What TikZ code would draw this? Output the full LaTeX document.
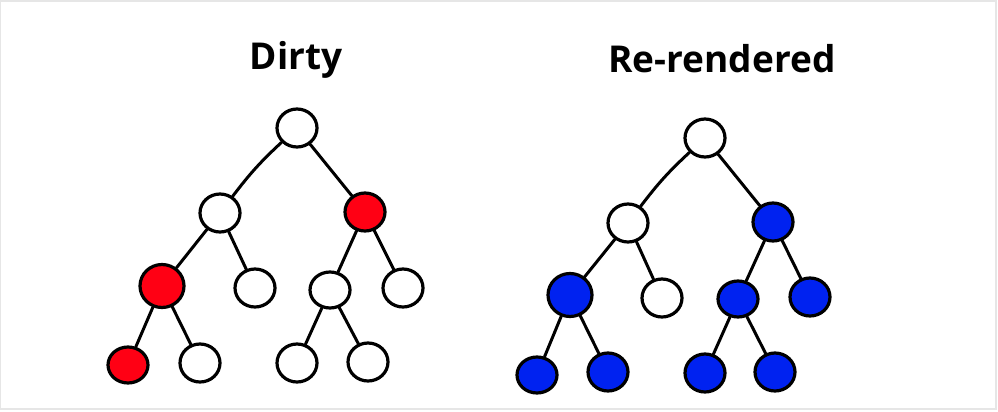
\documentclass[tikz,border=0pt]{standalone}
\usepackage{fontspec}
\setmainfont{Open Sans}
\usepackage{xcolor}
\definecolor{cDirty}{HTML}{FF0014}
\definecolor{cRedo}{HTML}{0022F0}
\definecolor{cFrame}{HTML}{E6E6E6}
\usepackage{tikz}
\usetikzlibrary{positioning,shapes.geometric}
\tikzset{
  node-clean/.style={draw=black,line width=3.2pt,ellipse,fill=white,
    minimum width=40pt,minimum height=38pt,inner sep=0pt},
  node-dirty/.style={node-clean,fill=cDirty},
  node-redo/.style={node-clean,fill=cRedo},
  edge-line/.style={line width=3pt,draw=black,line cap=round},
  title-text/.style={font=\fontsize{37}{40}\selectfont\bfseries,anchor=base},
}

\begin{document}
\begin{tikzpicture}[x=1pt,y=-1pt]
  \useasboundingbox (0,0) rectangle (998,412);
  \draw[cFrame,line width=1.5pt] (0,1) rectangle (996,409);
  % dirty tree
  \node[title-text] (t-dirty) at (296,70) {Dirty};
  \node[node-clean] (d-root) at (297,128) {};
  \node[node-clean] (d-l) at (220,213) {};
  \node[node-dirty] (d-r) at (365,212) {};
  \node[node-dirty,minimum width=44pt,minimum height=43pt] (d-ll) at (162,286) {};
  \node[node-clean] (d-lr) at (255,288) {};
  \node[node-clean,minimum height=36pt] (d-rl) at (330,290) {};
  \node[node-clean] (d-rr) at (403,288) {};
  \node[node-dirty,minimum height=36pt] (d-lll) at (128,365) {};
  \node[node-clean] (d-llr) at (200,363) {};
  \node[node-clean] (d-rll) at (297,363) {};
  \node[node-clean] (d-rlr) at (368,362) {};
  \draw[edge-line] (d-root) to[bend right=5] (d-l);
  \draw[edge-line] (d-root) -- (d-r);
  \draw[edge-line] (d-l) -- (d-ll);
  \draw[edge-line] (d-l) -- (d-lr);
  \draw[edge-line] (d-r) -- (d-rl);
  \draw[edge-line] (d-r) -- (d-rr);
  \draw[edge-line] (d-ll) -- (d-lll);
  \draw[edge-line] (d-ll) -- (d-llr);
  \draw[edge-line] (d-rl) -- (d-rll);
  \draw[edge-line] (d-rl) -- (d-rlr);
  % re-rendered tree
  \node[title-text] (t-redo) at (722,72) {Re-rendered};
  \node[node-clean] (r-root) at (705,138) {};
  \node[node-clean] (r-l) at (628,223) {};
  \node[node-redo] (r-r) at (773,222) {};
  \node[node-redo,minimum width=44pt,minimum height=43pt] (r-ll) at (570,295) {};
  \node[node-clean] (r-lr) at (662,298) {};
  \node[node-redo,minimum height=36pt] (r-rl) at (738,299) {};
  \node[node-redo] (r-rr) at (810,297) {};
  \node[node-redo,minimum height=36pt] (r-lll) at (537,375) {};
  \node[node-redo] (r-llr) at (608,372) {};
  \node[node-redo] (r-rll) at (705,373) {};
  \node[node-redo] (r-rlr) at (775,372) {};
  \draw[edge-line] (r-root) to[bend right=5] (r-l);
  \draw[edge-line] (r-root) -- (r-r);
  \draw[edge-line] (r-l) -- (r-ll);
  \draw[edge-line] (r-l) -- (r-lr);
  \draw[edge-line] (r-r) -- (r-rl);
  \draw[edge-line] (r-r) -- (r-rr);
  \draw[edge-line] (r-ll) -- (r-lll);
  \draw[edge-line] (r-ll) -- (r-llr);
  \draw[edge-line] (r-rl) -- (r-rll);
  \draw[edge-line] (r-rl) -- (r-rlr);
\end{tikzpicture}
\end{document}
